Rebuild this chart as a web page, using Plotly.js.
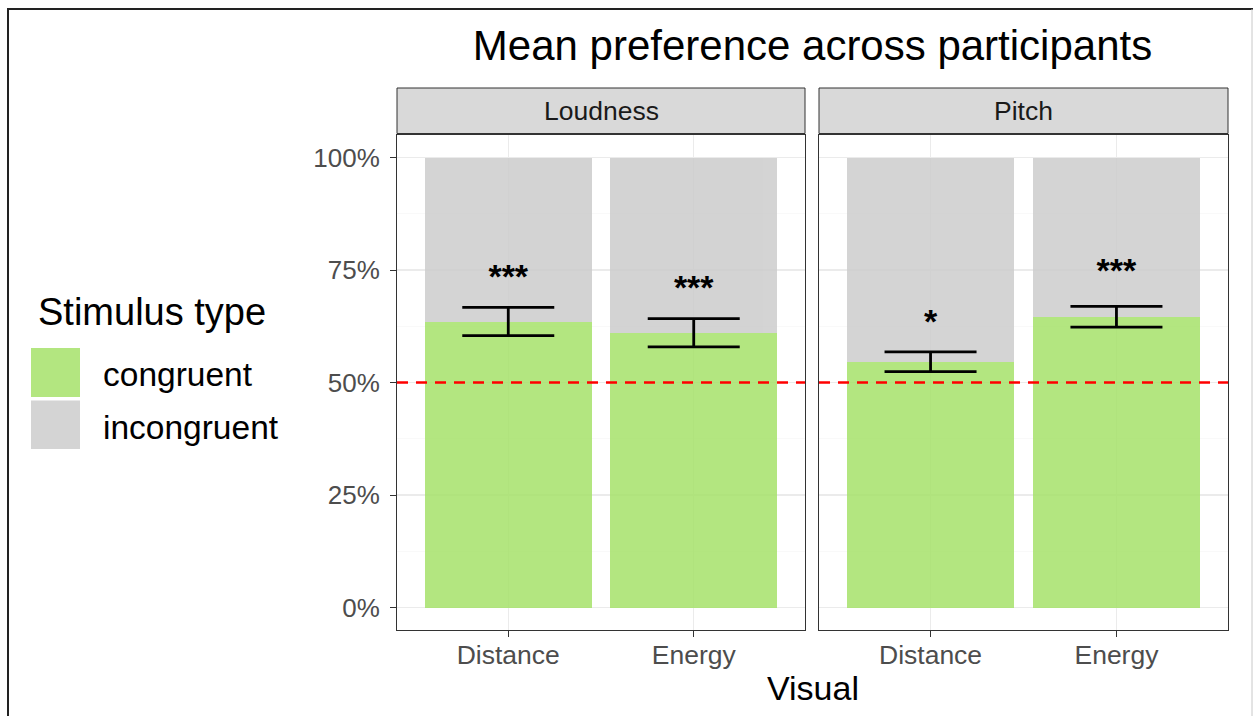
<!DOCTYPE html>
<html>
<head>
<meta charset="utf-8">
<script src="https://cdn.plot.ly/plotly-3.0.1.min.js"></script>
<style>
html,body{margin:0;padding:0;background:#fff;}
#chart{width:1253px;height:716px;}
</style>
</head>
<body>
<div id="chart"></div>
<script>
// ---- data ----
const visuals = ['Distance', 'Energy'];
const facets = ['Loudness', 'Pitch'];
const loudnessCongruent = [0.635, 0.610];
const loudnessIncongruent = [0.365, 0.390];
const pitchCongruent = [0.546, 0.646];
const pitchIncongruent = [0.454, 0.354];
const loudnessUpper = [0.667, 0.642];
const loudnessLower = [0.604, 0.579];
const pitchUpper = [0.568, 0.669];
const pitchLower = [0.524, 0.623];
const loudnessSig = ['***', '***'];
const pitchSig = ['*', '***'];
const loudnessSigY = [0.728, 0.704];
const pitchSigY = [0.630, 0.743];
const chanceLevel = 0.5;
const yTicks = [0, 0.25, 0.5, 0.75, 1];
const legendLabels = ['congruent', 'incongruent'];

// ---- styling ----
const FONT = 'Liberation Sans, Arial, Helvetica, sans-serif';
const GREEN = 'rgb(166,226,106)';
const GREY = 'rgb(204,204,204)';
const BAR_OPACITY = 0.85;

const W = 1253, H = 716;
const L = 397, R = 1228, T = 135, B = 630;
const pw = R - L, ph = B - T;
const px = v => (v - L) / pw;
const py = v => 1 - (v - T) / ph;

const groups = [
  {xa: 'x', ya: 'y', cong: loudnessCongruent, inc: loudnessIncongruent, up: loudnessUpper, lo: loudnessLower, sig: loudnessSig, sigY: loudnessSigY},
  {xa: 'x2', ya: 'y2', cong: pitchCongruent, inc: pitchIncongruent, up: pitchUpper, lo: pitchLower, sig: pitchSig, sigY: pitchSigY}
];

const traces = [];
groups.forEach((g, i) => {
  traces.push({
    type: 'bar', x: visuals, y: g.cong, name: legendLabels[0], xaxis: g.xa, yaxis: g.ya,
    marker: {color: GREEN, line: {width: 0}}, opacity: BAR_OPACITY, width: 0.9, showlegend: false,
    hoverinfo: 'x+y'
  });
  traces.push({
    type: 'bar', x: visuals, y: g.inc, name: legendLabels[1], xaxis: g.xa, yaxis: g.ya,
    marker: {color: GREY, line: {width: 0}}, opacity: BAR_OPACITY, width: 0.9, showlegend: false,
    hoverinfo: 'x+y'
  });
  traces.push({
    type: 'scatter', mode: 'markers', x: visuals, y: g.cong, xaxis: g.xa, yaxis: g.ya,
    marker: {size: 1, opacity: 0}, showlegend: false, hoverinfo: 'skip',
    error_y: {
      type: 'data', symmetric: false,
      array: g.up.map((u, k) => u - g.cong[k]),
      arrayminus: g.lo.map((l, k) => g.cong[k] - l),
      color: '#000', thickness: 2.8, width: 46
    }
  });
  traces.push({
    type: 'scatter', mode: 'text', x: visuals, y: g.sigY, text: g.sig, xaxis: g.xa, yaxis: g.ya,
    textposition: 'middle center', textfont: {family: FONT, size: 34, color: '#000', weight: 'bold'},
    showlegend: false, hoverinfo: 'skip'
  });
});

const xCommon = {
  type: 'category', range: [-0.6, 1.6], fixedrange: true,
  showline: true, linecolor: '#333333', linewidth: 1, mirror: true,
  showgrid: true, gridcolor: '#ebebeb', gridwidth: 1.2,
  ticks: 'outside', ticklen: 6, tickcolor: '#333333', tickwidth: 1,
  tickfont: {family: FONT, size: 26.5, color: '#4d4d4d'},
  ticklabelstandoff: -5,
  zeroline: false
};
const yCommon = {
  range: [-0.05, 1.05], tickvals: yTicks, tickformat: '.0%', fixedrange: true,
  showline: true, linecolor: '#333333', linewidth: 1, mirror: true,
  showgrid: true, gridcolor: '#ebebeb', gridwidth: 1.2,
  minor: {dtick: 0.125, tick0: 0.125, showgrid: true, gridcolor: '#f5f5f5', gridwidth: 0.6, ticks: ''},
  ticks: 'outside', ticklen: 6, tickcolor: '#333333', tickwidth: 1,
  tickfont: {family: FONT, size: 26, color: '#4d4d4d'},
  ticklabelstandoff: 5,
  zeroline: false
};

const d1 = [0, px(805)];
const d2 = [px(819), 1];

const shapes = [];
const annotations = [];
['x', 'x2'].forEach((xa, i) => {
  // strip
  shapes.push({type: 'rect', xref: xa + ' domain', yref: 'paper', x0: 0, x1: 1, y0: py(133.5), y1: py(88),
    fillcolor: '#d9d9d9', line: {color: '#333333', width: 1}, layer: 'above'});
  annotations.push({xref: xa + ' domain', yref: 'paper', x: 0.5, y: py(111), text: facets[i], showarrow: false,
    xanchor: 'center', yanchor: 'middle', font: {family: FONT, size: 26.5, color: '#1a1a1a'}});
  // chance line
  shapes.push({type: 'line', xref: xa + ' domain', yref: i === 0 ? 'y' : 'y2', x0: 0, x1: 1, y0: chanceLevel, y1: chanceLevel,
    line: {color: '#ff0000', width: 2.4, dash: '11px,8px'}, layer: 'above'});
});

// legend (manual, large keys)
shapes.push({type: 'rect', xref: 'paper', yref: 'paper', x0: px(31), x1: px(80), y0: py(397), y1: py(348),
  fillcolor: GREEN, opacity: BAR_OPACITY, line: {width: 0}});
shapes.push({type: 'rect', xref: 'paper', yref: 'paper', x0: px(31), x1: px(80), y0: py(449), y1: py(400.5),
  fillcolor: GREY, opacity: BAR_OPACITY, line: {width: 0}});
annotations.push({xref: 'paper', yref: 'paper', x: px(36), y: py(312), text: 'Stimulus type', showarrow: false,
  xanchor: 'left', yanchor: 'middle', font: {family: FONT, size: 38, color: '#000'}});
annotations.push({xref: 'paper', yref: 'paper', x: px(101), y: py(374), text: legendLabels[0], showarrow: false,
  xanchor: 'left', yanchor: 'middle', font: {family: FONT, size: 33.5, color: '#000'}});
annotations.push({xref: 'paper', yref: 'paper', x: px(101), y: py(427), text: legendLabels[1], showarrow: false,
  xanchor: 'left', yanchor: 'middle', font: {family: FONT, size: 33.5, color: '#000'}});

// x-axis title
annotations.push({xref: 'paper', yref: 'paper', x: 0.5, y: py(688), text: 'Visual', showarrow: false,
  xanchor: 'center', yanchor: 'middle', font: {family: FONT, size: 34, color: '#000'}});

// outer frame
shapes.push({type: 'line', xref: 'paper', yref: 'paper', x0: px(7), x1: px(1253), y0: py(9), y1: py(9), line: {color: '#222', width: 2}});
shapes.push({type: 'line', xref: 'paper', yref: 'paper', x0: px(8), x1: px(8), y0: py(9), y1: py(716), line: {color: '#222', width: 2}});
shapes.push({type: 'line', xref: 'paper', yref: 'paper', x0: px(1252), x1: px(1252), y0: py(9), y1: py(716), line: {color: '#c8c8c8', width: 1}});

const layout = {
  width: W, height: H,
  margin: {l: L, r: W - R, t: T, b: H - B, pad: 0},
  paper_bgcolor: '#fff', plot_bgcolor: '#fff',
  barmode: 'stack', bargap: 0.1,
  showlegend: false,
  font: {family: FONT},
  title: {text: 'Mean preference across participants', xref: 'paper', x: 0.5, xanchor: 'center',
    yref: 'container', y: 1 - 45 / H, yanchor: 'middle', font: {family: FONT, size: 42, color: '#000'}},
  xaxis: Object.assign({}, xCommon, {domain: d1, anchor: 'y'}),
  xaxis2: Object.assign({}, xCommon, {domain: d2, anchor: 'y2'}),
  yaxis: Object.assign({}, yCommon, {anchor: 'x'}),
  yaxis2: Object.assign({}, yCommon, {anchor: 'x2', matches: 'y', showticklabels: false, ticks: ''}),
  shapes: shapes,
  annotations: annotations
};

Plotly.newPlot('chart', traces, layout, {displayModeBar: false, staticPlot: true});
</script>
</body>
</html>
